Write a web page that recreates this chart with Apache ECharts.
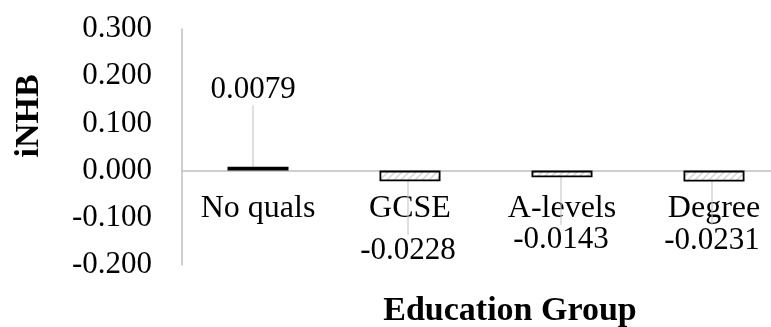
<!DOCTYPE html>
<html>
<head>
<meta charset="utf-8">
<script src="https://cdn.jsdelivr.net/npm/echarts@6/dist/echarts.min.js"></script>
<style>
  html, body { margin: 0; padding: 0; background: #fff; }
  #chart { width: 771px; height: 327px; }
</style>
</head>
<body>
<div id="chart"></div>
<script>
// Education groups and their iNHB values
const categories = ['No quals', 'GCSE', 'A-levels', 'Degree'];
const values = [0.0079, -0.0228, -0.0143, -0.0231];
const valueLabels = ['0.0079', '-0.0228', '-0.0143', '-0.0231'];
const yTicks = { min: -0.2, max: 0.3, step: 0.1 };

// Where each value label sits relative to the end of its bar (px)
const labelOffsets = [[-5, -77], [-2, 69], [-1, 63], [-2, 59]];

const FONT = '"Liberation Serif", "DejaVu Serif", serif';
const GRID = { left: 182, top: 29, width: 608, height: 236 };

// The category axis runs along the zero line: shift it up from the plot bottom
const zeroShift = -GRID.height * (0 - yTicks.min) / (yTicks.max - yTicks.min);

// Light diagonal hatch used to fill the bars
function hatchPattern() {
  const c = document.createElement('canvas');
  c.width = 7; c.height = 7;
  const g = c.getContext('2d');
  g.fillStyle = '#ffffff';
  g.fillRect(0, 0, 7, 7);
  g.strokeStyle = '#d6d6d6';
  g.lineWidth = 1.5;
  g.beginPath();
  g.moveTo(-1, 8); g.lineTo(8, -1);
  g.moveTo(-4, 4); g.lineTo(4, -4);
  g.moveTo(3, 11); g.lineTo(11, 3);
  g.stroke();
  return c;
}

const chart = echarts.init(document.getElementById('chart'), null, { renderer: 'canvas' });

chart.setOption({
  animation: false,
  backgroundColor: '#ffffff',
  grid: Object.assign({ containLabel: false, outerBoundsMode: 'none' }, GRID),
  xAxis: {
    type: 'category',
    data: categories,
    offset: zeroShift,
    axisLine: { show: true, onZero: false, lineStyle: { color: '#bfbfbf', width: 1.5 } },
    axisTick: { show: false },
    axisLabel: { color: '#000', fontFamily: FONT, fontSize: 32, margin: 22 },
    name: 'Education Group',
    nameLocation: 'middle',
    nameGap: 124,
    nameTextStyle: { color: '#000', fontFamily: FONT, fontSize: 34, fontWeight: 'bold', padding: [0, 0, 0, 48] }
  },
  yAxis: {
    type: 'value',
    min: yTicks.min,
    max: yTicks.max,
    interval: yTicks.step,
    axisLine: { show: true, lineStyle: { color: '#bfbfbf', width: 1.5 } },
    axisTick: { show: false },
    splitLine: { show: false },
    axisLabel: {
      color: '#000', fontFamily: FONT, fontSize: 31, margin: 30,
      formatter: v => v.toFixed(3)
    },
    name: 'iNHB',
    nameLocation: 'middle',
    nameGap: 136,
    nameRotate: 90,
    nameTextStyle: { color: '#000', fontFamily: FONT, fontSize: 34, fontWeight: 'bold', padding: [0, 0, 0, 62] }
  },
  series: [{
    type: 'bar',
    data: values,
    barWidth: 61,
    itemStyle: {
      color: { image: hatchPattern(), repeat: 'repeat' },
      borderColor: '#000',
      borderWidth: 1.8
    },
    label: {
      show: true,
      position: 'top',
      color: '#000',
      fontFamily: FONT,
      fontSize: 31,
      formatter: p => valueLabels[p.dataIndex]
    },
    labelLine: { show: true, lineStyle: { color: '#bfbfbf', width: 1 } },
    labelLayout: function (p) {
      const r = p.rect;
      const off = labelOffsets[p.dataIndex];
      const anchorY = values[p.dataIndex] >= 0 ? Math.min(r.y, r.y + r.height) : Math.max(r.y, r.y + r.height);
      return {
        x: r.x + r.width / 2 + off[0],
        y: anchorY + off[1],
        align: 'center',
        verticalAlign: 'middle'
      };
    }
  }]
});
</script>
</body>
</html>
